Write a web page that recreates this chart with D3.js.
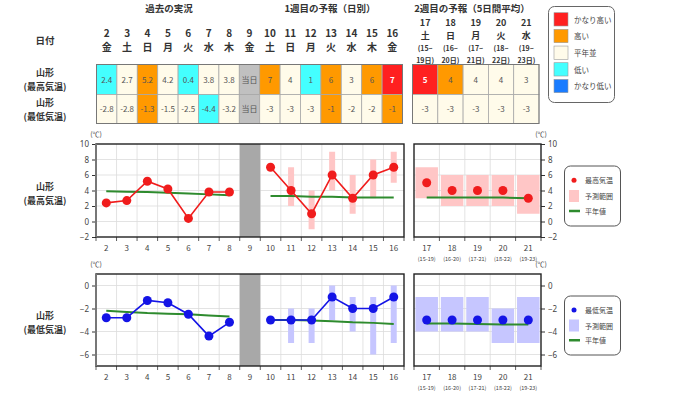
<!DOCTYPE html>
<html><head><meta charset="utf-8">
<script src="https://cdn.jsdelivr.net/npm/d3@7"></script>
<style>body{margin:0;background:#fff} svg{display:block;font-family:"Noto Sans CJK JP","Noto Sans",sans-serif}</style>
</head><body><svg id="c" width="680" height="394"></svg>
<script>
// ---------- data ----------
const days = [2,3,4,5,6,7,8,9,10,11,12,13,14,15,16];
const dows = ["金","土","日","月","火","水","木","金","土","日","月","火","水","木","金"];
const maxText = ["2.4","2.7","5.2","4.2","0.4","3.8","3.8","当日","7","4","1","6","3","6","7"];
const maxClass = ["low","norm","high","norm","low","norm","norm","today","high","norm","low","high","norm","high","vhigh"];
const minText = ["-2.8","-2.8","-1.3","-1.5","-2.5","-4.4","-3.2","当日","-3","-3","-3","-1","-2","-2","-1"];
const minClass = ["norm","norm","high","norm","norm","low","norm","today","norm","norm","norm","high","norm","norm","high"];
const weeks2 = [17,18,19,20,21];
const dows2 = ["土","日","月","火","水"];
const periodStart = ["(15~","(16~","(17~","(18~","(19~"];
const periodEnd = ["19日)","20日)","21日)","22日)","23日)"];
const periodShort = ["(15-19)","(16-20)","(17-21)","(18-22)","(19-23)"];
const w2MaxText = ["5","4","4","4","3"];
const w2MaxClass = ["vhigh","high","norm","norm","norm"];
const w2MinText = ["-3","-3","-3","-3","-3"];
const w2MinClass = ["norm","norm","norm","norm","norm"];

const pastDays = [2,3,4,5,6,7,8];
const pastMax = [2.4,2.7,5.2,4.2,0.4,3.8,3.8];
const pastMin = [-2.8,-2.8,-1.3,-1.5,-2.5,-4.4,-3.2];
const pastMaxNormal = [3.9,3.85,3.8,3.7,3.6,3.5,3.4];
const pastMinNormal = [-2.2,-2.3,-2.4,-2.45,-2.5,-2.6,-2.7];
const fcDays = [10,11,12,13,14,15,16];
const fcMax = [7,4,1,6,3,6,7];
const fcMaxLo = [null,2,-1,4,1,3,5];
const fcMaxHi = [null,7,4,9,6,8,9];
const fcMaxNormal = [3.3,3.3,3.2,3.2,3.1,3.1,3.1];
const fcMin = [-3,-3,-3,-1,-2,-2,-1];
const fcMinLo = [null,-5,-5,-3,-4,-6,-5];
const fcMinHi = [null,-2,-2,0,-1,-1,0];
const fcMinNormal = [-3.0,-3.0,-3.05,-3.1,-3.2,-3.25,-3.35];
const w2Max = [5,4,4,4,3];
const w2MaxLo = [3,2,2,2,1];
const w2MaxHi = [7,6,6,6,6];
const w2MaxNormal = [3.1,3.1,3.1,3.1,3.0];
const w2Min = [-3,-3,-3,-3,-3];
const w2MinLo = [-4,-4,-4,-5,-5];
const w2MinHi = [-1,-1,-1,-2,-1];
const w2MinNormal = [-3.3,-3.3,-3.35,-3.4,-3.4];
const maxTicks = [-2,0,2,4,6,8,10];
const minTicks = [-6,-4,-2,0];
const legendTop = [["vhigh","かなり高い"],["high","高い"],["norm","平年並"],["low","低い"],["vlow","かなり低い"]];

const clsColor = {vhigh:"#ff2020", high:"#ff9900", norm:"#fffbea", low:"#44ffff", vlow:"#1a7cff", today:"#c0c0c0"};
const RED="#f01c1c", PINK="#ffc6c6", BLUE="#1414e6", LBLUE="#c6c6ff", GREEN="#2e8b2e";

const svg = d3.select("#c");
svg.append("rect").attr("width",680).attr("height",394).attr("fill","#fff");
const txtCol = "#333";

// ---------- headers ----------
function text(x,y,s,size,opts={}) {
  return svg.append("text").attr("x",x).attr("y",y).text(s)
    .attr("font-size",size).attr("text-anchor",opts.anchor||"middle")
    .attr("fill",opts.fill||txtCol).attr("font-weight",opts.weight||"normal");
}
text(169,12,"過去の実況",9.5,{weight:"bold"});
text(330,12,"1週目の予報（日別）",9.5,{weight:"bold"});
text(472,12,"2週目の予報（5日間平均）",9.5,{weight:"bold"});
text(45,44,"日付",9.5,{weight:"bold"});
text(45,76,"山形",9,{weight:"bold"});
text(45,90,"(最高気温)",9,{weight:"bold"});
text(45,106,"山形",9,{weight:"bold"});
text(45,120,"(最低気温)",9,{weight:"bold"});

// table 1
const tx = d3.scaleBand().domain(days).range([96.5,402.5]);
const rowY = [64.5,94.5], rowH = 30;
days.forEach((d,i)=>{
  text(tx(d)+tx.bandwidth()/2,37,String(d),10,{weight:"bold"});
  text(tx(d)+tx.bandwidth()/2,51,dows[i],10,{weight:"bold"});
});
function drawRow(scale, keys, texts, classes, y, h, fs){
  keys.forEach((d,i)=>{
    svg.append("rect").attr("x",scale(d)).attr("y",y).attr("width",scale.bandwidth()).attr("height",h)
      .attr("fill",clsColor[classes[i]]).attr("stroke","#a8a8a8").attr("stroke-width",0.8);
    const c = classes[i];
    text(scale(d)+scale.bandwidth()/2,y+h/2+3,texts[i],fs,
      {fill: c==="vhigh"?"#fff":"#555", weight: c==="vhigh"?"bold":"normal"});
  });
}
drawRow(tx,days,maxText,maxClass,rowY[0],rowH,8);
drawRow(tx,days,minText,minClass,rowY[1],rowH-1,8);
svg.append("rect").attr("x",96.5).attr("y",64.5).attr("width",306).attr("height",59).attr("fill","none").attr("stroke","#777").attr("stroke-width",1);

// table 2
const tx2 = d3.scaleBand().domain(weeks2).range([412.5,539]);
weeks2.forEach((d,i)=>{
  const cx = tx2(d)+tx2.bandwidth()/2;
  text(cx,25.5,String(d),9,{weight:"bold"});
  text(cx,38.5,dows2[i],9,{weight:"bold"});
  text(cx,51,periodStart[i],7,{weight:"bold"});
  text(cx,63,periodEnd[i],7,{weight:"bold"});
});
drawRow(tx2,weeks2,w2MaxText,w2MaxClass,rowY[0],rowH,8);
drawRow(tx2,weeks2,w2MinText,w2MinClass,rowY[1],rowH-1,8);
svg.append("rect").attr("x",412.5).attr("y",64.5).attr("width",126.5).attr("height",59).attr("fill","none").attr("stroke","#777").attr("stroke-width",1);

// top legend
svg.append("rect").attr("x",548.5).attr("y",6.5).attr("width",66).attr("height",96).attr("rx",6)
  .attr("fill","#fff").attr("stroke","#666").attr("stroke-width",1);
legendTop.forEach((l,i)=>{
  const y = 12.7 + i*16.67;
  svg.append("rect").attr("x",554).attr("y",y).attr("width",14).attr("height",13.3)
    .attr("fill",clsColor[l[0]]).attr("stroke","#999").attr("stroke-width",0.6);
  text(574,y+10,l[1],7.5,{anchor:"start",fill:"#444"});
});

// ---------- charts ----------
const cx1 = d3.scaleBand().domain(days).range([96,404]);
const cx2 = d3.scaleBand().domain(weeks2).range([414,541]);
const yMax = d3.scaleLinear().domain([-2,10]).range([237,144]);
const yMin = d3.scaleLinear().domain([-7,1]).range([366,274]);

function panel(xs, ys, ticks, opts){
  const g = svg.append("g");
  const [x0,x1] = xs.range(), [yb,yt] = ys.range();
  const bw = xs.bandwidth();
  ticks.forEach(t=>{ if(ys(t)>yt+1 && ys(t)<yb-1)
    g.append("line").attr("x1",x0).attr("x2",x1).attr("y1",ys(t)).attr("y2",ys(t)).attr("stroke","#dcdcdc").attr("stroke-width",0.8);});
  xs.domain().slice(1).forEach(d=>{
    g.append("line").attr("x1",xs(d)).attr("x2",xs(d)).attr("y1",yt).attr("y2",yb).attr("stroke","#dcdcdc").attr("stroke-width",0.8);});
  if(opts.gray!==undefined){
    g.append("rect").attr("x",xs(opts.gray)).attr("y",yt).attr("width",bw).attr("height",yb-yt).attr("fill","#a8a8a8");
  }
  xs.domain().concat(["end"]).forEach(d=>{
    const x = d==="end"? x1 : xs(d);
    g.append("line").attr("x1",x).attr("x2",x).attr("y1",yb).attr("y2",yb+4).attr("stroke","#333").attr("stroke-width",0.8);
  });
  xs.domain().forEach((d,i)=>{
    g.append("text").attr("x",xs(d)+bw/2).attr("y",yb+14).attr("text-anchor","middle").attr("font-size",8).attr("fill","#444").text(d);
    if(opts.sub) g.append("text").attr("x",xs(d)+bw/2).attr("y",yb+24).attr("text-anchor","middle").attr("font-size",5.5).attr("fill","#444").text(opts.sub[i]);
  });
  const ax = (opts.right? d3.axisRight(ys).tickValues(ticks).tickSize(4) : d3.axisLeft(ys).tickValues(ticks).tickSize(4)).tickPadding(3);
  const ag = g.append("g").attr("transform",`translate(${opts.right?x1:x0},0)`).call(ax);
  ag.select(".domain").remove();
  ag.selectAll("text").attr("font-size",8).attr("fill","#444").attr("font-family",'"Noto Sans","DejaVu Sans",sans-serif');
  ag.selectAll("line").attr("stroke","#333");
  g.append("text").attr("x",opts.right?x1:x0).attr("y",yt-7).attr("text-anchor","middle").attr("font-size",7).attr("fill","#444").text("(℃)");
  return g;
}
function frame(g, xs, ys){
  const [x0,x1] = xs.range(), [yb,yt] = ys.range();
  g.append("rect").attr("x",x0).attr("y",yt).attr("width",x1-x0).attr("height",yb-yt).attr("fill","none").attr("stroke","#222").attr("stroke-width",1.4);
}
function series(g, xs, ys, dArr, vals, lo, hi, normal, col, lcol, barW, connect){
  const bw = xs.bandwidth();
  const cx = d => xs(d)+bw/2;
  dArr.forEach((d,i)=>{ if(lo[i]!==null)
    g.append("rect").attr("x",cx(d)-barW/2).attr("y",ys(hi[i])).attr("width",barW).attr("height",ys(lo[i])-ys(hi[i])).attr("fill",lcol);});
  g.append("path").attr("d",d3.line().x((d,i)=>cx(dArr[i])).y(v=>ys(v))(normal)).attr("fill","none").attr("stroke",GREEN).attr("stroke-width",2);
  if(connect) g.append("path").attr("d",d3.line().x((d,i)=>cx(dArr[i])).y(v=>ys(v))(vals)).attr("fill","none").attr("stroke",col).attr("stroke-width",1.6);
  vals.forEach((v,i)=>g.append("circle").attr("cx",cx(dArr[i])).attr("cy",ys(v)).attr("r",4.5).attr("fill",col));
}
const noRange = pastDays.map(()=>null);

let g = panel(cx1,yMax,maxTicks,{gray:9});
series(g,cx1,yMax,pastDays,pastMax,noRange,noRange,pastMaxNormal,RED,PINK,6,true);
series(g,cx1,yMax,fcDays,fcMax,fcMaxLo,fcMaxHi,fcMaxNormal,RED,PINK,6,true);
frame(g,cx1,yMax);
g.append("line").attr("x1",96).attr("x2",96).attr("y1",144).attr("y2",237).attr("stroke","#777").attr("stroke-width",2);
g = panel(cx2,yMax,maxTicks,{right:true,sub:periodShort});
series(g,cx2,yMax,weeks2,w2Max,w2MaxLo,w2MaxHi,w2MaxNormal,RED,PINK,22.5,false);
frame(g,cx2,yMax);
g = panel(cx1,yMin,minTicks,{gray:9});
series(g,cx1,yMin,pastDays,pastMin,noRange,noRange,pastMinNormal,BLUE,LBLUE,6,true);
series(g,cx1,yMin,fcDays,fcMin,fcMinLo,fcMinHi,fcMinNormal,BLUE,LBLUE,6,true);
frame(g,cx1,yMin);
g.append("line").attr("x1",96).attr("x2",96).attr("y1",274).attr("y2",366).attr("stroke","#777").attr("stroke-width",2);
g = panel(cx2,yMin,minTicks,{right:true,sub:periodShort});
series(g,cx2,yMin,weeks2,w2Min,w2MinLo,w2MinHi,w2MinNormal,BLUE,LBLUE,22.5,false);
frame(g,cx2,yMin);

text(45,190,"山形",9,{weight:"bold"});
text(45,204,"(最高気温)",9,{weight:"bold"});
text(45,319,"山形",9,{weight:"bold"});
text(45,333,"(最低気温)",9,{weight:"bold"});

function chartLegend(y0, h, col, lcol, label){
  svg.append("rect").attr("x",564.5).attr("y",y0).attr("width",56).attr("height",h).attr("rx",6)
    .attr("fill","#fff").attr("stroke","#555").attr("stroke-width",1);
  const s = h/4;
  svg.append("circle").attr("cx",574).attr("cy",y0+s*0.95).attr("r",2.5).attr("fill",col);
  text(585,y0+s*0.95+3,label,7,{anchor:"start",fill:"#444"});
  svg.append("rect").attr("x",569).attr("y",y0+s*2-6).attr("width",10).attr("height",12).attr("fill",lcol);
  text(585,y0+s*2+3,"予測範囲",7,{anchor:"start",fill:"#444"});
  svg.append("line").attr("x1",569).attr("x2",580).attr("y1",y0+s*3).attr("y2",y0+s*3).attr("stroke",GREEN).attr("stroke-width",2.5);
  text(585,y0+s*3+3,"平年値",7,{anchor:"start",fill:"#444"});
}
chartLegend(166,60,RED,PINK,"最高気温");
chartLegend(296,59,BLUE,LBLUE,"最低気温");
</script></body></html>
